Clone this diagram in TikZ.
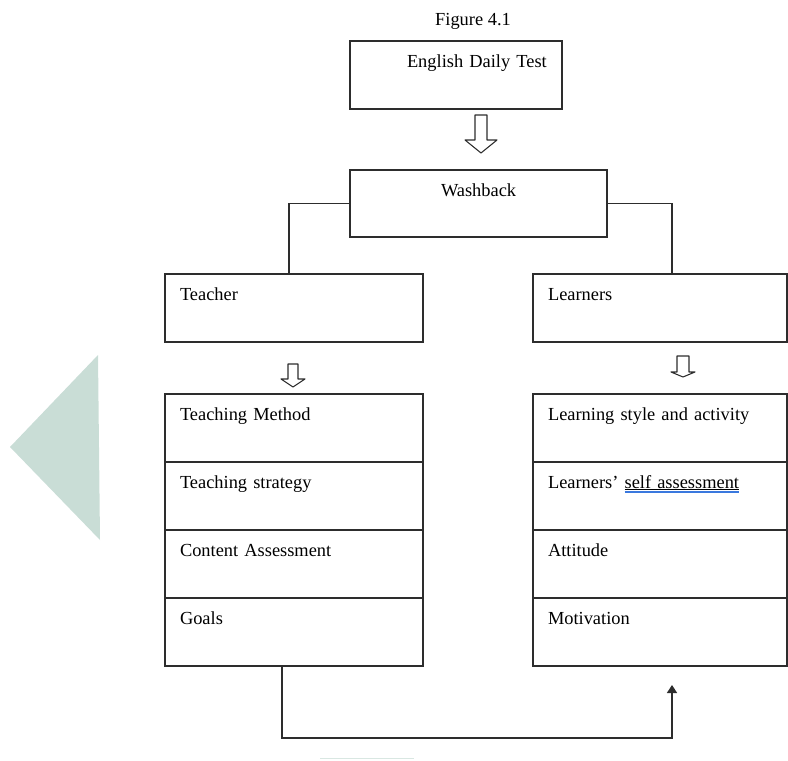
\documentclass[tikz,border=0pt]{standalone}
\usepackage{fontspec}
\setmainfont{Liberation Serif}
\usetikzlibrary{arrows.meta, positioning}
\definecolor{sage}{RGB}{201,221,214}
\definecolor{ulblue}{RGB}{58,120,222}
\definecolor{rulegray}{RGB}{45,45,45}
\newsavebox\markbox
\newcommand{\grammarline}[1]{\sbox\markbox{#1}%
  \rlap{\textcolor{ulblue}{\rule[-3.4pt]{\wd\markbox}{0.9pt}}}%
  \rlap{\rule[-1.1pt]{\wd\markbox}{0.5pt}}\usebox\markbox}
% hollow block arrow: x, top, neck, tip, half shaft, half head
\newcommand{\blockarrow}[6]{%
  \draw[hollow] (#1-#5,#2) -- (#1+#5,#2) -- (#1+#5,#3) -- (#1+#6,#3) -- (#1,#4)
    -- (#1-#6,#3) -- (#1-#5,#3) -- cycle;}
\tikzset{
    box/.style={draw=rulegray, line width=1.1pt, outer sep=0pt, anchor=north west,
        inner xsep=11.25pt, inner ysep=0pt, align=left,
        text height=19.5pt, text depth=31.5pt, text width=#1},
    hollow/.style={draw=rulegray, line width=0.8pt, fill=white, line join=round},
    link/.style={draw=rulegray, line width=1.1pt},
    textnode/.style={}}

\begin{document}
\begin{tikzpicture}[x=0.75pt, y=-0.75pt, font=\fontsize{13.8pt}{16pt}\selectfont]
\useasboundingbox (0,0) rectangle (788,760);

% shaded shapes behind
\fill[sage] (98,355) -- (10,447) -- (100,540) -- cycle;
\draw[sage!70, line width=1.2pt] (320,758.5) -- (414,758.5);

\node[textnode, anchor=base] (fig) at (473,25) {Figure 4.1};
\node[box=136.5pt] (test) at (350,41) {\hspace*{31.5pt}English Daily Test};
\node[box=170.25pt, text depth=30.75pt] (wash) at (350,170) {\hspace*{57pt}Washback};

\node[box=171pt] (teacher)  at (165,274) {Teacher};
\node[box=168pt] (learners) at (533,274) {Learners};

% left column
\node[box=171pt] (tmethod) at (165,394) {Teaching Method};
\node[box=171pt, below=0pt of tmethod]   (tstrategy) {Teaching strategy};
\node[box=171pt, below=0pt of tstrategy] (tcontent)  {Content Assessment};
\node[box=171pt, below=0pt of tcontent]  (tgoals)    {Goals};

% right column
\node[box=168pt] (lstyle) at (533,394) {Learning style and activity};
\node[box=168pt, below=0pt of lstyle]  (lself)   {Learners’ \grammarline{self assessment}};
\node[box=168pt, below=0pt of lself]   (lattit)  {Attitude};
\node[box=168pt, below=0pt of lattit]  (lmotiv)  {Motivation};

% hollow arrows
\blockarrow{481}{115}{140}{153}{6}{16}
\blockarrow{293}{364}{379}{387}{5}{12}
\blockarrow{683}{356}{372}{377}{6}{12}

\path[link] (wash.west) -| ([xshift=-3.75pt]teacher.north);
\path[link] (wash.east) -| ([xshift=9pt]learners.north);

\coordinate (fbend) at (672,685);
\draw[link, -{Triangle[length=6pt, width=7.5pt]}]
    ([xshift=-9pt]tgoals.south) -- ++(0,72) -| (fbend);
\end{tikzpicture}
\end{document}
